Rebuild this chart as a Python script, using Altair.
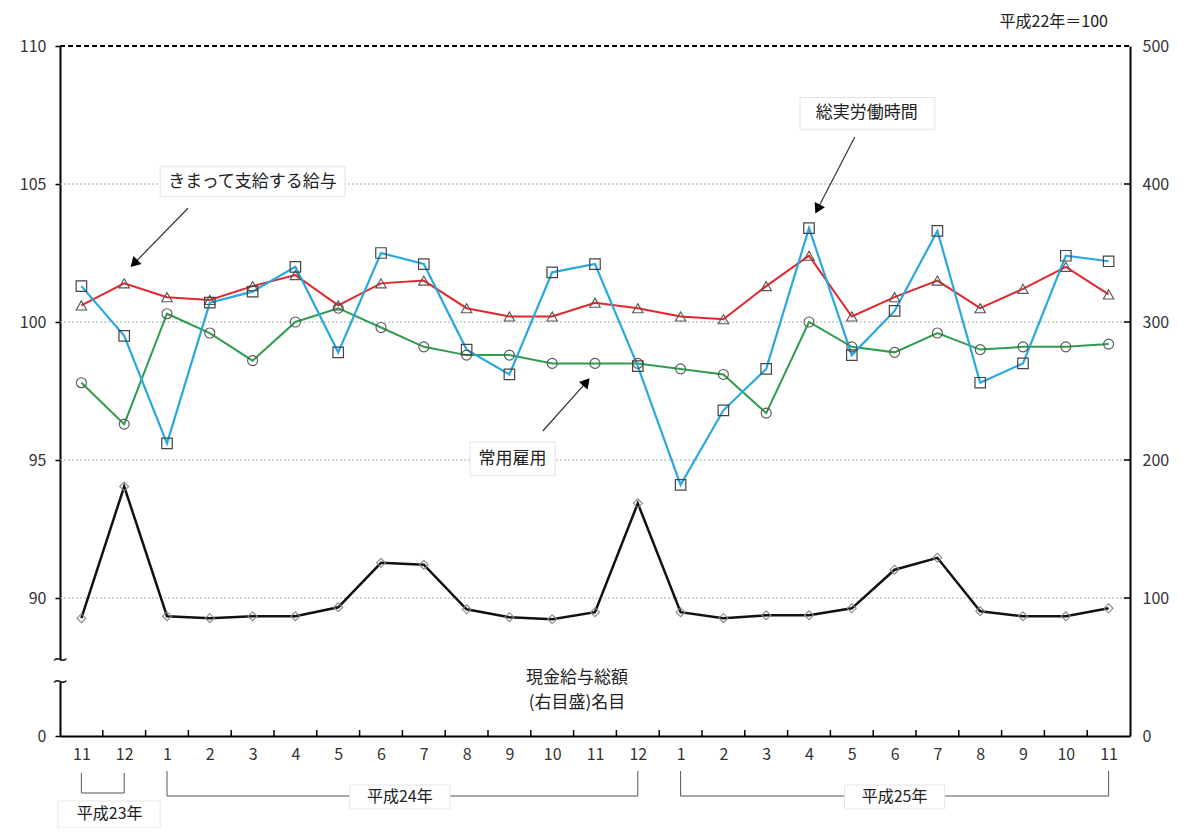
import altair as alt
import pandas as pd

FONT = "Noto Sans CJK JP"

# ---- data ----
months = ["11", "12", "1", "2", "3", "4", "5", "6", "7", "8", "9", "10", "11", "12",
          "1", "2", "3", "4", "5", "6", "7", "8", "9", "10", "11"]
scheduled_pay = [100.6, 101.4, 100.9, 100.8, 101.3, 101.7, 100.6, 101.4, 101.5, 100.5, 100.2, 100.2,
                 100.7, 100.5, 100.2, 100.1, 101.3, 102.4, 100.2, 100.9, 101.5, 100.5, 101.2, 102.0, 101.0]
hours_worked = [101.3, 99.5, 95.6, 100.7, 101.1, 102.0, 98.9, 102.5, 102.1, 99.0, 98.1, 101.8,
                102.1, 98.4, 94.1, 96.8, 98.3, 103.4, 98.8, 100.4, 103.3, 97.8, 98.5, 102.4, 102.2]
regular_employment = [97.8, 96.3, 100.3, 99.6, 98.6, 100.0, 100.5, 99.8, 99.1, 98.8, 98.8, 98.5,
                      98.5, 98.5, 98.3, 98.1, 96.7, 100.0, 99.1, 98.9, 99.6, 99.0, 99.1, 99.1, 99.2]
total_cash = [85.4, 180.8, 86.8, 85.4, 86.8, 86.8, 93.3, 125.5, 124.1, 91.8, 86.1, 84.6,
              89.7, 168.6, 89.7, 85.4, 87.5, 87.5, 92.5, 120.5, 129.1, 90.4, 86.8, 86.8, 92.5]
left_axis_labels = ["0", "90", "95", "100", "105", "110"]
right_axis_values = [0, 100, 200, 300, 400, 500]
year_labels = ["平成23年", "平成24年", "平成25年"]

W, H = 1070, 690
idx = list(range(len(months)))


def to_right(v):
    # left scale (90..110) drawn on the right-axis units (100..500)
    return 100 + (v - 90) * 20


xscale = alt.Scale(domain=[-0.5, len(months) - 0.5], nice=False, zero=False)
yscale = alt.Scale(domain=[0, 500], nice=False, zero=False)

month_expr = "[" + ",".join(f"'{m}'" for m in months) + "][datum.value]"
left_expr = "[" + ",".join(f"'{m}'" for m in left_axis_labels) + "][round(datum.value/100)]"

xaxis = alt.Axis(values=idx, labelExpr=month_expr, ticks=False, tickSize=0,
                 domainColor="black", domainWidth=2, labelPadding=10, labelFontSize=16,
                 labelFont=FONT, labelColor="#333", grid=False, title=None,
                 labelOverlap=False, labelFlush=False)
X = alt.X("x:Q", scale=xscale, axis=xaxis)

yaxis_left = alt.Axis(orient="left", values=right_axis_values, labelExpr=left_expr, title=None,
                      grid=False, domainColor="black", domainWidth=2, tickColor="black",
                      tickSize=5, tickWidth=1.5, labelPadding=9, labelFontSize=16, labelFont=FONT,
                      labelColor="#333")
YL = alt.Y("y:Q", scale=yscale, axis=yaxis_left)

yaxis_right = alt.Axis(orient="right", values=right_axis_values, title=None, grid=False,
                       domainColor="black", domainWidth=2, ticks=False, labelPadding=12,
                       labelFontSize=16, labelFont=FONT, labelColor="#333")
YR = alt.Y("y:Q", scale=yscale, axis=yaxis_right)


def sdf(vals, conv=lambda v: v):
    return pd.DataFrame({"x": idx, "y": [conv(v) for v in vals]})


# ---- grid and frame ----
grid = alt.Chart(pd.DataFrame({"y": [100, 200, 300, 400]})).mark_rule(
    color="#aaa", strokeDash=[2, 2], strokeWidth=1).encode(y=YL, x=alt.value(0), x2=alt.value(W))
top_line = alt.Chart(pd.DataFrame({"y": [500]})).mark_rule(
    color="black", strokeDash=[5, 3], strokeWidth=2).encode(y=YL, x=alt.value(0), x2=alt.value(W))
xticks = alt.Chart(pd.DataFrame({"x": [i + 0.5 for i in idx[:-1]]})).mark_rule(
    color="black", strokeWidth=1.5).encode(x=X, y=alt.value(H), y2=alt.value(H - 6))
rticks = alt.Chart(pd.DataFrame({"y": [100, 200, 300, 400]})).mark_rule(
    color="black", strokeWidth=1.5).encode(y=YL, x=alt.value(W - 6), x2=alt.value(W))

# axis break on the left
brk_rect = alt.Chart(pd.DataFrame({"y": [39], "y2": [55]})).mark_rect(color="white").encode(
    y=YL, y2=alt.Y2("y2"), x=alt.value(-8), x2=alt.value(8))
brk_wave = alt.Chart(pd.DataFrame({"y": [55, 39], "t": ["~", "~"]})).mark_text(
    font="DejaVu Sans", fontSize=20, color="#222", baseline="middle").encode(
    y=YL, x=alt.value(0), text="t:N")

# ---- series on left axis ----
red = "#e3262b"
blue = "#29a8df"
green = "#2e9d4c"
df_red = sdf(scheduled_pay, to_right)
df_blue = sdf(hours_worked, to_right)
df_green = sdf(regular_employment, to_right)

lines = [
    alt.Chart(df_green).mark_line(color=green, strokeWidth=2).encode(x=X, y=YL),
    alt.Chart(df_red).mark_line(color=red, strokeWidth=2).encode(x=X, y=YL),
    alt.Chart(df_blue).mark_line(color=blue, strokeWidth=2.2).encode(x=X, y=YL),
]
points = [
    alt.Chart(df_green).mark_point(shape="circle", filled=False, color="#555", size=100,
                                   strokeWidth=1.1, opacity=1).encode(x=X, y=YL),
    alt.Chart(df_red).mark_point(shape="triangle-up", filled=False, color="#555", size=110,
                                 strokeWidth=1.1, opacity=1).encode(x=X, y=YL),
    alt.Chart(df_blue).mark_point(shape="square", filled=False, color="#444", size=110,
                                  strokeWidth=1.2, opacity=1).encode(x=X, y=YL),
]

# ---- annotations ----
ann_boxes = pd.DataFrame({"x": [1.84, 16.79, 9.08], "x2": [6.16, 19.94, 11.07],
                          "y": [412.5, 462.7, 213.0], "y2": [391.0, 439.7, 188.7]})
ann_text = pd.DataFrame({"x": [4.0, 18.35, 10.07], "y": [401.5, 451.2, 200.9],
                         "t": ["きまって支給する給与", "総実労働時間", "常用雇用"]})
arrow_lines = pd.DataFrame({"x": [2.49, 18.07, 10.78], "y": [382.4, 434.0, 221.0],
                            "x2": [1.23, 17.20, 11.80], "y2": [342.4, 381.9, 256.5]})
arrow_heads = pd.DataFrame({"x": [1.23, 17.20, 11.80], "y": [342.4, 381.9, 256.5],
                            "ang": [224, 207, 41]})
cash_label = pd.DataFrame({"x": [11.58, 11.58], "y": [42.3, 23.7],
                           "t": ["現金給与総額", "(右目盛)名目"]})

annotations = [
    alt.Chart(ann_boxes).mark_rect(fill="white", stroke="#e2e2e2", strokeWidth=1).encode(
        x=X, x2=alt.X2("x2"), y=YL, y2=alt.Y2("y2")),
    alt.Chart(ann_text).mark_text(font=FONT, fontSize=17, color="#222", baseline="middle").encode(
        x=X, y=YL, text="t:N"),
    alt.Chart(arrow_lines).mark_rule(color="#333", strokeWidth=1.2).encode(
        x=X, y=YL, x2=alt.X2("x2"), y2=alt.Y2("y2")),
    alt.Chart(arrow_heads).mark_point(shape="triangle-up", filled=True, color="black", size=130,
                                      opacity=1).encode(
        x=X, y=YL, angle=alt.Angle("ang:Q", scale=None)),
    alt.Chart(cash_label).mark_text(font=FONT, fontSize=17, color="#222", baseline="middle").encode(
        x=X, y=YL, text="t:N"),
    alt.Chart(pd.DataFrame({"t": ["平成22年＝100"]})).mark_text(
        font=FONT, fontSize=16, color="#222", align="right", baseline="middle").encode(
        x=alt.value(W - 22), y=alt.value(-24), text="t:N"),
]

# ---- year brackets below the axis ----
bc = "#555"
brackets = [
    alt.Chart(pd.DataFrame({"x": [0, 1]})).mark_rule(color=bc, strokeWidth=1).encode(
        x=X, y=alt.value(H + 37), y2=alt.value(H + 57)),
    alt.Chart(pd.DataFrame({"x": [0], "x2": [1]})).mark_rule(color=bc, strokeWidth=1).encode(
        x=X, x2=alt.X2("x2"), y=alt.value(H + 57)),
    alt.Chart(pd.DataFrame({"x": [2, 13, 14, 24]})).mark_rule(color=bc, strokeWidth=1).encode(
        x=X, y=alt.value(H + 35), y2=alt.value(H + 60)),
    alt.Chart(pd.DataFrame({"x": [2, 14], "x2": [13, 24]})).mark_rule(color=bc, strokeWidth=1).encode(
        x=X, x2=alt.X2("x2"), y=alt.value(H + 60)),
    alt.Chart(pd.DataFrame({"x": [6.27, 17.83], "x2": [8.61, 20.17]})).mark_rect(
        fill="white", stroke="#e6e6e6", strokeWidth=1).encode(
        x=X, x2=alt.X2("x2"), y=alt.value(H + 49), y2=alt.value(H + 73)),
    alt.Chart(pd.DataFrame({"x": [7.44, 19.0], "t": year_labels[1:]})).mark_text(
        font=FONT, fontSize=16, color="#222", baseline="middle").encode(
        x=X, y=alt.value(H + 61), text="t:N"),
    alt.Chart(pd.DataFrame({"x": [-0.55], "x2": [1.84]})).mark_rect(
        fill="white", stroke="#e6e6e6", strokeWidth=1).encode(
        x=X, x2=alt.X2("x2"), y=alt.value(H + 65), y2=alt.value(H + 92)),
    alt.Chart(pd.DataFrame({"x": [0.66], "t": year_labels[:1]})).mark_text(
        font=FONT, fontSize=16, color="#222", baseline="middle").encode(
        x=X, y=alt.value(H + 78), text="t:N"),
]

left_group = alt.layer(grid, top_line, xticks, rticks, *lines, *points, *annotations,
                       *brackets, brk_rect, brk_wave)

# ---- series on right axis ----
df_black = sdf(total_cash)
right_group = alt.layer(
    alt.Chart(df_black).mark_line(color="#111", strokeWidth=2.5).encode(x=X, y=YR),
    alt.Chart(df_black).mark_point(shape="diamond", filled=False, color="#888", size=80,
                                   strokeWidth=1.1, opacity=1).encode(x=X, y=YR),
)

chart = alt.layer(left_group, right_group).resolve_scale(y="independent").properties(
    width=W, height=H,
    autosize=alt.AutoSizeParams(type="none"),
    padding={"left": 52, "top": 38, "right": 43, "bottom": 92},
    background="white",
).configure_view(strokeWidth=0)

chart.save("out.html", embed_options={"renderer": "svg", "actions": False})
